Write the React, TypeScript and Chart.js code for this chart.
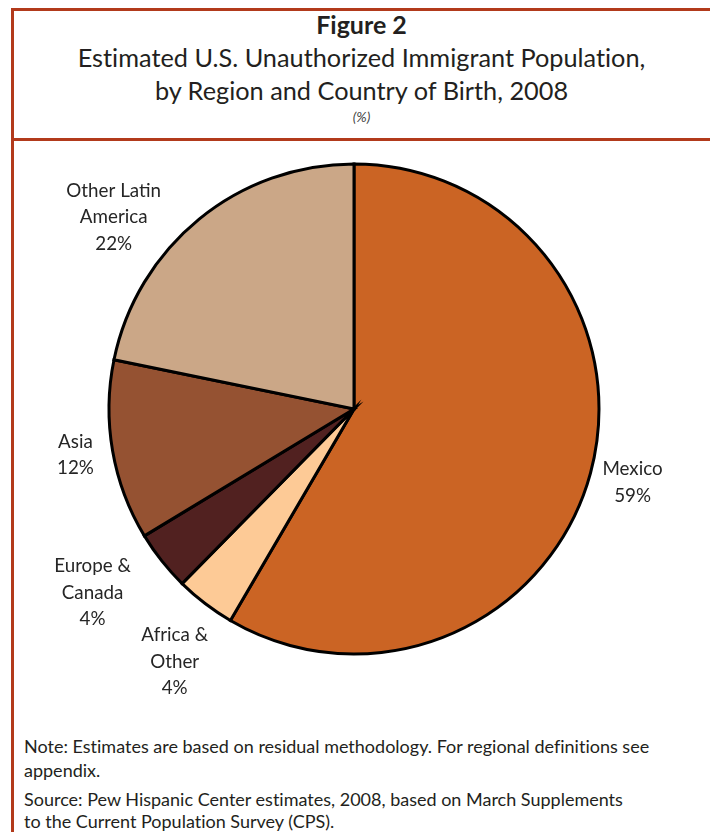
import React, { useEffect, useRef } from "react";
import { Chart, registerables } from "chart.js";

Chart.register(...registerables);

// ---- data ----
const categories = ["Mexico", "Africa & Other", "Europe & Canada", "Asia", "Other Latin America"];
const shares = [59, 4, 4, 12, 22];
const labelNameLines = [["Mexico"], ["Africa &", "Other"], ["Europe &", "Canada"], ["Asia"], ["Other Latin", "America"]];

const sliceColors = ["#CB6424", "#FDCA96", "#512120", "#955232", "#CBA787"];
const FONT = "Lato, 'Open Sans', 'Noto Sans', sans-serif";
const RULE = "#B23A1B";
const INK = "#231F20";

// label placement relative to each slice (angle adjust in degrees, radius factor)
const labelPlacement = [
  { adjust: -0.5, factor: 1.168 },
  { adjust: -2.0, factor: 1.255 },
  { adjust: 3.3, factor: 1.295 },
  { adjust: 0.5, factor: 1.145 },
  { adjust: -12.1, factor: 1.249 },
];

const outsideLabels = {
  id: "outsideLabels",
  afterDatasetsDraw(chart: any, _args: any, opts: any) {
    const meta = chart.getDatasetMeta(0);
    const ctx = chart.ctx;
    const fs = opts.fontSize;
    ctx.save();
    ctx.font = `${fs}px ${FONT}`;
    ctx.fillStyle = opts.color;
    ctx.textAlign = "center";
    ctx.textBaseline = "alphabetic";
    meta.data.forEach((arc: any, i: number) => {
      const p = arc.getProps(["x", "y", "startAngle", "endAngle", "outerRadius"], true);
      const pl = opts.placement[i];
      const a = (p.startAngle + p.endAngle) / 2 + (pl.adjust * Math.PI) / 180;
      const r = (p.outerRadius + 1.5) * pl.factor;
      const cx = p.x + Math.cos(a) * r;
      const cy = p.y + Math.sin(a) * r;
      const lines = [...labelNameLines[i], `${shares[i]}%`];
      const lh = opts.lineHeight;
      lines.forEach((t: string, j: number) => {
        const yc = cy + (j - (lines.length - 1) / 2) * lh;
        ctx.fillText(t, cx, yc + fs * 0.35);
      });
    });
    ctx.restore();
  },
};

function PieChart() {
  const ref = useRef<HTMLCanvasElement | null>(null);
  useEffect(() => {
    if (!ref.current) return;
    const chart = new Chart(ref.current, {
      type: "pie",
      data: {
        labels: categories,
        datasets: [
          {
            data: shares,
            backgroundColor: sliceColors,
            borderColor: "#000",
            borderWidth: 3,
            borderJoinStyle: "miter",
          } as any,
        ],
      },
      options: {
        animation: false,
        responsive: false,
        devicePixelRatio: 1,
        radius: 245,
        layout: { padding: { left: 0, right: 15, top: 0, bottom: 53 } },
        plugins: {
          legend: { display: false },
          tooltip: { enabled: false },
          outsideLabels: { fontSize: 18.8, lineHeight: 26.5, color: "#262626", placement: labelPlacement },
        } as any,
      },
      plugins: [outsideLabels as any],
    });
    return () => chart.destroy();
  }, []);
  return (
    <canvas
      ref={ref}
      width={697}
      height={589}
      style={{ position: "absolute", left: 13, top: 141, width: 697, height: 589 }}
    />
  );
}

function Line({ top, size, text, bold, italic, color }: any) {
  return (
    <div
      style={{
        position: "absolute",
        left: 13,
        width: 697,
        top: top - 15,
        height: 30,
        lineHeight: "30px",
        textAlign: "center",
        fontSize: size,
        fontWeight: bold ? 700 : 400,
        fontStyle: italic ? "italic" : "normal",
        color: color || INK,
        whiteSpace: "nowrap",
        fontVariantLigatures: "none",
      }}
    >
      {text}
    </div>
  );
}

function NoteLine({ top, text }: any) {
  return (
    <div
      style={{
        position: "absolute",
        left: 24,
        top: top - 12,
        height: 24,
        lineHeight: "24px",
        fontSize: 18,
        color: INK,
        whiteSpace: "nowrap",
        fontVariantLigatures: "none",
      }}
    >
      {text}
    </div>
  );
}

export default function App() {
  return (
    <div
      style={{
        position: "absolute",
        left: 0,
        top: 0,
        width: 710,
        height: 832,
        overflow: "hidden",
        background: "#fff",
        fontFamily: FONT,
      }}
    >
      <div style={{ position: "absolute", left: 11, top: 8, width: 699, height: 2.5, background: RULE }} />
      <div style={{ position: "absolute", left: 11, top: 8, width: 2.5, height: 824, background: RULE }} />
      <div style={{ position: "absolute", left: 11, top: 138, width: 699, height: 2.5, background: RULE }} />

      <Line top={24} size={25} bold text="Figure 2" />
      <Line top={57} size={25.3} text="Estimated U.S. Unauthorized Immigrant Population," />
      <Line top={90} size={25.3} text="by Region and Country of Birth, 2008" />
      <Line top={117} size={14} italic color="#444" text="(%)" />

      <PieChart />

      <NoteLine top={746} text="Note: Estimates are based on residual methodology. For regional definitions see" />
      <NoteLine top={770} text="appendix." />
      <NoteLine top={799} text="Source: Pew Hispanic Center estimates, 2008, based on March Supplements" />
      <NoteLine top={821} text="to the Current Population Survey (CPS)." />
    </div>
  );
}
